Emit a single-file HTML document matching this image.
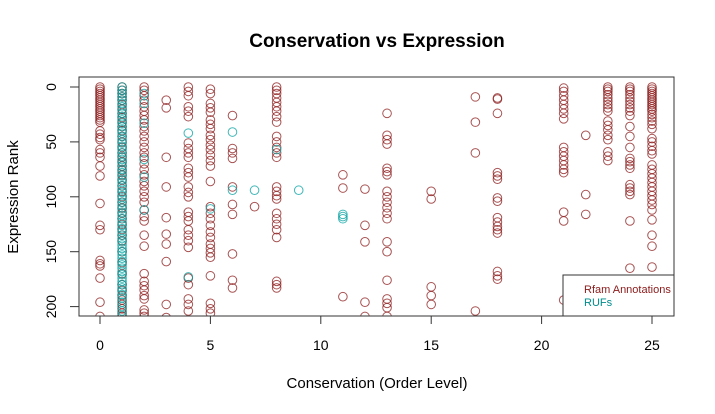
<!DOCTYPE html>
<html><head><meta charset="utf-8"><style>
html,body{margin:0;padding:0;background:#fff;}
svg{display:block;font-family:"Liberation Sans",sans-serif;}
</style></head><body>
<svg id="chart" width="715" height="414">
<defs><clipPath id="plotclip"><rect x="79" y="77" width="595" height="239"/></clipPath></defs>
<text x="377" y="47" text-anchor="middle" font-size="19" font-weight="bold">Conservation vs Expression</text>
<text x="377" y="388" text-anchor="middle" font-size="15">Conservation (Order Level)</text>
<text transform="translate(18,197) rotate(-90)" text-anchor="middle" font-size="15">Expression Rank</text>
<g id="axes"></g>
<g id="pts" clip-path="url(#plotclip)"></g>
<rect x="79" y="77" width="595" height="239" fill="none" stroke="#333" stroke-width="1"/>
<g>
<rect x="563" y="275" width="111" height="41" fill="#fff" stroke="#333" stroke-width="1"/>
<text x="584" y="293" font-size="11" fill="#8b1a1a">Rfam Annotations</text>
<text x="584" y="306" font-size="11" fill="#008b8b">RUFs</text>
</g>
</svg>
<script>
const xTicks=[0,5,10,15,20,25];
const yTicks=[0,50,100,150,200];
const rfamCols=[
[0,[0,2,4,6,8,10,12,14,16,18,20,22,24,26,28,30,32,40,43,46,48,57,60,64,72,81,106,126,130,158,161,163,174,196,209]],
[1,[0,3,6,9,12,16,20,24,28,32,36,40,45,50,55,60,64,68,72,76,80,85,90,95,100,105,110,115,120,125,130,135,140,150,160,170,180,185,190,194,198,202,206,209]],
[2,[0,3,8,12,18,22,26,30,36,40,45,50,55,60,64,70,75,80,86,90,95,100,105,112,118,122,135,145,170,177,181,185,190,193,203,206,209]],
[3,[12,19,64,91,119,134,143,159,198,210]],
[4,[0,4,8,18,22,27,51,56,60,64,74,78,82,91,96,100,114,118,122,130,135,140,146,174,180,193,198,204]],
[5,[2,6,15,19,23,30,34,38,44,48,53,57,62,67,72,86,109,115,120,126,132,137,143,147,151,155,172,197,202,206]],
[6,[26,56,60,65,91,107,116,152,176,183]],
[7,[109]],
[8,[0,3,6,10,14,18,22,27,32,45,50,55,60,64,91,95,99,102,115,120,125,130,137,177,180,183]],
[11,[80,92,191]],
[12,[93,126,141,196,209]],
[13,[24,44,48,52,74,77,80,95,100,105,110,115,120,141,150,176,193,197,201,209]],
[15,[95,102,182,190,198]],
[17,[9,32,60,204]],
[18,[10,11,24,78,81,84,101,104,119,123,127,130,133,168,172,175]],
[21,[1,4,8,12,16,20,24,29,55,59,63,67,71,75,78,114,122,194]],
[22,[44,98,116]],
[23,[0,2,4,7,10,13,16,19,22,31,35,39,44,48,59,63,67]],
[24,[0,2,4,7,10,13,16,19,22,26,36,45,55,65,68,71,74,89,92,95,98,122,165]],
[25,[0,2,4,6,8,10,12,14,16,18,20,22,25,28,31,34,38,47,50,54,58,61,71,75,79,83,87,91,95,99,103,107,112,121,135,145,164]]
];
const rufCols=[
[1,[0,3,6,9,12,15,18,21,24,27,30,33,36,39,42,45,48,51,54,57,60,63,66,69,72,75,78,81,84,87,90,93,96,99,102,105,108,111,114,117,120,123,126,129,132,135,138,141,144,147,150,153,156,159,162,165,168,171,174,177,180,183,186,189,192,196,200,204,208]],
[2,[6,15,33,66,82,112]],
[4,[42,173]],
[5,[111]],
[6,[41,94]],
[7,[94]],
[8,[57]],
[9,[94]],
[11,[116,118,120]]
];
const NS="http://www.w3.org/2000/svg";
function sx(v){return 100+v*22.08;}
function sy(v){return 87+v*1.098;}
const axes=document.getElementById('axes');
function mk(tag,attrs,parent){const e=document.createElementNS(NS,tag);for(const k in attrs)e.setAttribute(k,attrs[k]);parent.appendChild(e);return e;}
xTicks.forEach(t=>{
 const l=mk('line',{x1:sx(t),x2:sx(t),y1:316,y2:324,stroke:'#333'},axes);
 
 
 const tx=mk('text',{x:sx(t),y:350,'text-anchor':'middle','font-size':'14'},axes);
 tx.textContent=t;
 
 
});
yTicks.forEach(t=>{
 const l=mk('line',{x1:70,x2:79,y1:sy(t),y2:sy(t),stroke:'#333'},axes);
 
 
 const tx=mk('text',{transform:`translate(56,${sy(t)}) rotate(-90)`,'text-anchor':'middle','font-size':'14'},axes);
 tx.textContent=t;
 
 
});
const pts=document.getElementById('pts');
function draw(cols,color,name){
 cols.forEach(([x,ys])=>{ys.forEach(y=>{
  const c=mk('circle',{cx:sx(x),cy:sy(y),r:4.3,fill:'none',stroke:color,'stroke-opacity':0.75,'stroke-width':1},pts);
  
  
 });});
}
draw(rfamCols,'#8b1a1a','rfam-point');
draw(rufCols,'#00a0a0','ruf-point');
</script>
</body></html>
